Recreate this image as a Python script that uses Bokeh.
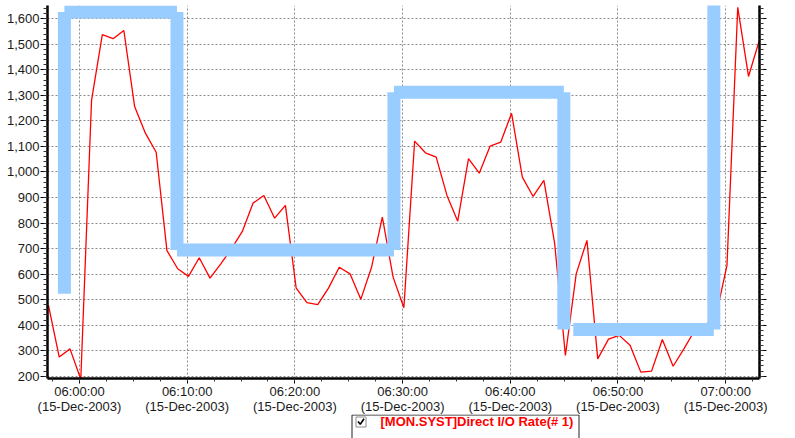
from bokeh.plotting import figure
from bokeh.layouts import column
from bokeh.models import (Range1d, LinearAxis, FixedTicker, SingleIntervalTicker,
                          NumeralTickFormatter, Label, Grid)
from bokeh.core.properties import value
from bokeh.embed import file_html
from bokeh.resources import INLINE

# ---------------- data ----------------
first_sample_min = -2.88          # first sample, minutes after 06:00:00 (15-Dec-2003)
sample_step_min = 1.0             # one sample per minute
io_rate = [477, 275, 307, 188, 1280, 1538, 1522, 1554, 1256, 1152, 1077, 692, 621, 591,
           664, 584, 640, 700, 767, 878, 908, 819, 869, 545, 488, 480, 545, 627, 601,
           501, 627, 823, 588, 468, 1121, 1075, 1058, 908, 807, 1052, 995, 1101, 1117,
           1230, 980, 904, 967, 720, 281, 601, 732, 268, 345, 360, 321, 216, 220, 344,
           239, 307, 379, 400, 440, 634, 1645, 1374, 1515]

# baseline step overlay (segments, minutes after 06:00 / value)
base_x0 = [-1.4, -1.4, 9.05, 9.05, 29.2, 29.2, 44.97, 45.85, 58.9]
base_y0 = [523, 1627, 1627, 694, 694, 1312, 1312, 383, 383]
base_x1 = [-1.4, 9.05, 9.05, 29.2, 29.2, 44.97, 44.97, 58.9, 58.9]
base_y1 = [1627, 1627, 694, 694, 1312, 1312, 383, 383, 1800]

time_ticks = [0, 10, 20, 30, 40, 50, 60]
time_labels = ["06:00:00\n(15-Dec-2003)", "06:10:00\n(15-Dec-2003)", "06:20:00\n(15-Dec-2003)",
               "06:30:00\n(15-Dec-2003)", "06:40:00\n(15-Dec-2003)", "06:50:00\n(15-Dec-2003)",
               "07:00:00\n(15-Dec-2003)"]
value_ticks = [200, 300, 400, 500, 600, 700, 800, 900, 1000, 1100, 1200, 1300, 1400, 1500, 1600]
legend_text = "[MON.SYST]Direct I/O Rate(# 1)"

# ---------------- layout ----------------
X_RANGE = (-2.97, 63.14)
Y_RANGE = (191, 1652)
W = 795
H_MAIN = 418
FL, FR, FT, FB = 47, 759, 5, 378   # frame edges in pixels
LEG_L, LEG_T, LEG_R = 351, 414, 579  # legend box edges (pixels)
LEG_H = 438 - LEG_T

def dx(px):
    return X_RANGE[0] + (px - FL) * (X_RANGE[1] - X_RANGE[0]) / (FR - FL)

sample_minutes = [first_sample_min + i * sample_step_min for i in range(len(io_rate))]

p = figure(width=W, height=H_MAIN, x_range=Range1d(*X_RANGE), y_range=Range1d(*Y_RANGE),
           output_backend="svg", toolbar_location=None,
           x_axis_type=None, y_axis_type=None,
           min_border_left=FL, min_border_right=W - FR, min_border_top=FT,
           min_border_bottom=H_MAIN - FB)
p.outline_line_color = None
p.background_fill_color = "white"
p.border_fill_color = "white"

FONT = "Liberation Sans"
LBL_COLOR = "#1a1a1a"

# bottom axis
minor_x = [-2.5 + 2.5 * i for i in range(27)]
xaxis = LinearAxis(ticker=FixedTicker(ticks=time_ticks, minor_ticks=minor_x),
                   major_label_overrides={t: l for t, l in zip(time_ticks, time_labels)})
xaxis.axis_line_width = 2.5
xaxis.axis_line_color = "black"
xaxis.major_tick_out = 5
xaxis.major_tick_in = 0
xaxis.minor_tick_out = 3
xaxis.minor_tick_in = 0
xaxis.major_tick_line_color = "black"
xaxis.minor_tick_line_color = "#333333"
xaxis.major_label_standoff = 0
xaxis.major_label_text_font = FONT
xaxis.major_label_text_font_size = "13px"
xaxis.major_label_text_line_height = 1.0
xaxis.major_label_text_color = LBL_COLOR
p.add_layout(xaxis, "below")

# left axis
yaxis = LinearAxis(ticker=SingleIntervalTicker(interval=100, num_minor_ticks=5),
                   formatter=NumeralTickFormatter(format="0,0"))
yaxis.axis_line_width = 2.5
yaxis.axis_line_color = "black"
yaxis.major_tick_out = 7
yaxis.major_tick_in = 0
yaxis.minor_tick_out = 4
yaxis.minor_tick_in = 0
yaxis.major_tick_line_color = "black"
yaxis.minor_tick_line_color = "#333333"
yaxis.major_label_standoff = 1
yaxis.major_label_text_font = FONT
yaxis.major_label_text_font_size = "13px"
yaxis.major_label_text_color = LBL_COLOR
p.add_layout(yaxis, "left")

# right axis (labels drawn separately, they run off the canvas edge)
raxis = LinearAxis(ticker=SingleIntervalTicker(interval=100, num_minor_ticks=5),
                   major_label_overrides={v: "" for v in range(0, 2000, 100)})
raxis.axis_line_width = 2.5
raxis.axis_line_color = "black"
raxis.major_tick_out = 7
raxis.major_tick_in = 0
raxis.minor_tick_out = 4
raxis.minor_tick_in = 0
raxis.major_tick_line_color = "black"
raxis.minor_tick_line_color = "#333333"
raxis.major_label_standoff = 0
p.add_layout(raxis, "right")

for v in value_ticks:
    p.add_layout(Label(x=dx(767), y=v, text=f"{v:,}", text_align="left",
                       text_baseline="middle", text_font=FONT, text_font_size="13px",
                       text_color=LBL_COLOR))

# grids
p.add_layout(Grid(dimension=0, ticker=FixedTicker(ticks=time_ticks),
                  grid_line_color="#8a8a8a", grid_line_dash="2 2", grid_line_width=1))
p.add_layout(Grid(dimension=1, ticker=FixedTicker(ticks=value_ticks),
                  grid_line_color="#8a8a8a", grid_line_dash="2 2", grid_line_width=1))

# series
p.line(sample_minutes, io_rate, line_color="#ff0000", line_width=1.3)
p.segment(x0=base_x0, y0=base_y0, x1=base_x1, y1=base_y1,
          line_color="#99ccff", line_width=13, line_cap="butt")

# ---------------- legend strip (transparent overlay, pixel coordinates) ----------------
# the strip's frame lines up with the main frame (FL..FR), so its x range is in page pixels
leg = figure(width=W, height=LEG_H, x_range=Range1d(FL, FR), y_range=Range1d(LEG_H, 0),
             output_backend="svg", toolbar_location=None,
             x_axis_type=None, y_axis_type=None,
             min_border_left=0, min_border_right=0, min_border_top=0, min_border_bottom=0)
leg.margin = (LEG_T - H_MAIN, 0, 0, 0)
leg.outline_line_color = None
leg.grid.visible = False
leg.background_fill_color = None
leg.border_fill_color = None

leg.quad(left=[LEG_L + 0.5], right=[LEG_R - 0.5], top=[0.5], bottom=[LEG_H + 5],
         fill_color="white", line_color="#222222", line_width=1)
leg.quad(left=[LEG_L + 4.5], right=[LEG_L + 14.5], top=[2.5], bottom=[12.5],
         fill_color="white", line_color="#8c8c8c", line_width=1)
leg.line(x=[LEG_L + 6.5, LEG_L + 8.8, LEG_L + 12.5], y=[7.0, 9.8, 4.2],
         line_color="black", line_width=1.6)
leg.text(x=[LEG_L + 29], y=[7.0], text=[legend_text], text_font=value(FONT),
         text_font_style="bold", text_font_size="13px", text_color="#ff0000",
         text_align="left", text_baseline="middle")

layout = column(p, leg, spacing=0)
open("out.html", "w").write(file_html(layout, INLINE))
